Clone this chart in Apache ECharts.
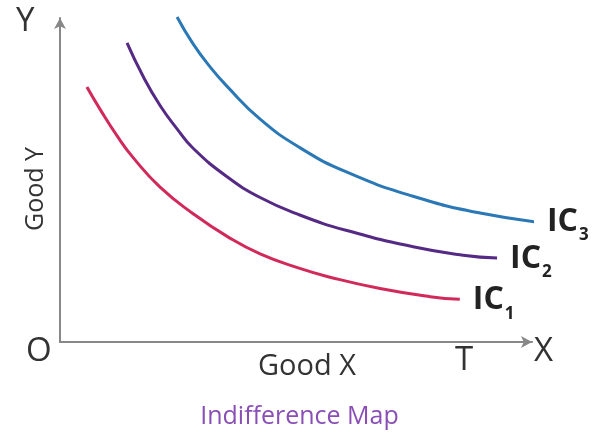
<!DOCTYPE html>
<html><head><meta charset="utf-8">
<script src="https://cdn.jsdelivr.net/npm/echarts@6/dist/echarts.min.js"></script>
<style>html,body{margin:0;padding:0;background:#fff}#c{width:599px;height:437px}</style>
</head><body><div id="c"></div>
<script>
// Indifference curves: [Good X, Good Y] on a 0-100 scale
const ic1 = [[5.7,78.7],[8.5,71.8],[12.1,63.6],[15.5,56.9],[21.2,47.8],[28.2,39.6],[35.4,32.6],[42.4,27.2],[50.8,22.7],[57.2,20.0],[67.8,16.5],[78.4,14.0],[84.7,13.2]];
const ic2 = [[14.2,92.3],[17.6,82.0],[21.2,73.0],[24.8,65.8],[28.2,59.8],[35.4,51.0],[42.4,44.6],[50.8,39.2],[60.8,34.4],[74.8,29.4],[85.4,26.8],[92.6,25.9]];
const ic3 = [[24.8,100.3],[28.2,92.0],[31.8,84.9],[35.4,78.9],[42.4,68.8],[50.8,60.0],[60.8,52.4],[74.8,45.0],[89.0,39.8],[103.2,36.7]];
const curveNames = ['IC1','IC2','IC3'];
const curveSubs = ['1','2','3'];
const colors = ['#d12a5a','#552a85','#2a78b5'];
const titleText = 'Indifference Map';
const xName = 'Good X', yName = 'Good Y';

const FONT = '"Open Sans", sans-serif';
const chart = echarts.init(document.getElementById('c'));
function mk(i, data){
  return {
    name: curveNames[i], type:'line', data: data, smooth: 0.5,
    showSymbol:false, clip:false, silent:true,
    lineStyle:{color:colors[i], width:3},
    endLabel:{show:true, distance:13, offset:[0,4],
      formatter:'{a|IC}{b|'+curveSubs[i]+'}',
      rich:{a:{fontFamily:FONT,fontSize:32,fontWeight:'bold',color:'#222',lineHeight:32,verticalAlign:'top'},
            b:{fontFamily:FONT,fontSize:17,fontWeight:'bold',color:'#222',padding:[21,0,0,1],verticalAlign:'top'}}}
  };
}
chart.setOption({
  backgroundColor:'#fff',
  animation:false,
  title:{text:titleText,left:'center',top:399,textStyle:{fontFamily:FONT,fontSize:25,fontWeight:'normal',color:'#8a4fb6'}},
  grid:{left:60,right:67,top:18,bottom:95},
  xAxis:{type:'value',min:0,max:100,name:xName,nameLocation:'middle',nameGap:10,
    nameTextStyle:{fontFamily:FONT,fontSize:29,color:'#333',padding:[0,0,0,22]},
    axisLine:{lineStyle:{color:'#888',width:2},symbol:['none','arrow'],symbolSize:[9,11]},
    axisTick:{show:false},axisLabel:{show:false},splitLine:{show:false}},
  yAxis:{type:'value',min:0,max:100,name:yName,nameLocation:'middle',nameGap:12,nameRotate:90,
    nameTextStyle:{fontFamily:FONT,fontSize:25,color:'#333',padding:[0,0,0,-18]},
    axisLine:{lineStyle:{color:'#888',width:2},symbol:['none','arrow'],symbolSize:[9,11]},
    axisTick:{show:false},axisLabel:{show:false},splitLine:{show:false}},
  graphic:[
    {type:'text',left:26,top:335,style:{text:'O',fontFamily:FONT,fontSize:33,fill:'#333'}},
    {type:'text',left:534,top:335,style:{text:'X',fontFamily:FONT,fontSize:33,fill:'#333'}},
    {type:'text',left:16,top:5,style:{text:'Y',fontFamily:FONT,fontSize:33,fill:'#333'}},
    {type:'text',left:455,top:344,style:{text:'T',fontFamily:FONT,fontSize:33,fill:'#333'}}
  ],
  series:[mk(0,ic1),mk(1,ic2),mk(2,ic3)]
});
</script></body></html>
